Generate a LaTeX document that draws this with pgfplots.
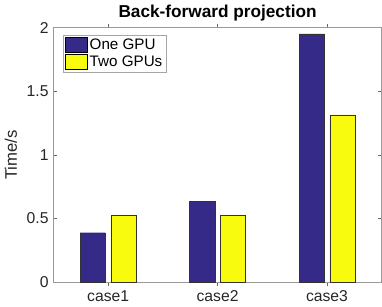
\documentclass[border=0pt]{standalone}
\usepackage{fontspec}
\setmainfont{Liberation Sans}
\usepackage{pgfplots}
\pgfplotsset{compat=1.18}
\definecolor{pblue}{HTML}{352A87}
\definecolor{pyellow}{HTML}{F9FB0E}
\definecolor{axgray}{HTML}{262626}
\begin{document}
\fontsize{14pt}{16pt}\selectfont
\begin{tikzpicture}
\begin{axis}[
  scale only axis,
  width=324pt, height=251pt,
  xmin=0.5, xmax=3.5,
  ymin=0, ymax=2,
  xtick={1,2,3},
  xticklabels={case1,case2,case3},
  ytick={0,0.5,1,1.5,2},
  yticklabels={0,0.5,1,1.5,2},
  tick align=inside,
  major tick length=4pt,
  tick style={axgray!70, line width=0.5pt},
  axis line style={gray!80, line width=0.6pt},
  ticklabel style={font=\fontsize{15.5pt}{17pt}\selectfont, text=axgray},
  /pgf/number format/assume math mode=true,
  ylabel={Time/s},
  ylabel style={font=\fontsize{16.5pt}{18pt}\selectfont, text=axgray},
  title={\bfseries Back-forward projection},
  title style={font=\fontsize{17pt}{19pt}\selectfont, yshift=-4pt},
  ybar,
  bar width=0.23,
  legend style={at={(0.03,0.97)}, anchor=north west, draw=gray!70, fill=white,
    font=\fontsize{15pt}{17pt}\selectfont, inner sep=1.5pt, row sep=0pt,
    cells={anchor=west}},
  legend image code/.code={\draw[#1, draw=black, line width=0.4pt] (0pt,-6.5pt) rectangle (22pt,8pt);},
]
\addplot[fill=pblue, draw=black!80, line width=0.4pt, bar shift=-0.14] coordinates {(1,0.388) (2,0.632) (3,1.952)};
\addplot[fill=pyellow, draw=black!80, line width=0.4pt, bar shift=0.14] coordinates {(1,0.526) (2,0.526) (3,1.315)};
\legend{One GPU, Two GPUs}
\end{axis}
\end{tikzpicture}
\end{document}
